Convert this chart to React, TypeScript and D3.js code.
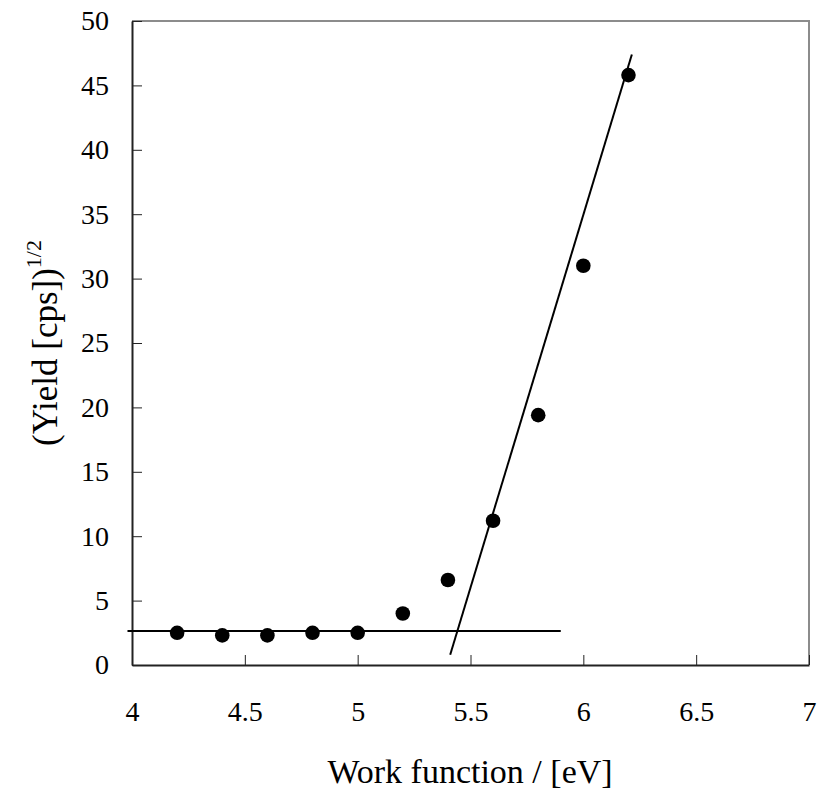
import React, { useEffect, useRef } from 'react';
import * as d3 from 'd3';

const workFunction = [4.2, 4.4, 4.6, 4.8, 5.0, 5.2, 5.4, 5.6, 5.8, 6.0, 6.2];
const yieldRoot = [2.5, 2.3, 2.3, 2.5, 2.5, 4.0, 6.6, 11.2, 19.4, 31.0, 45.8];
const baseLine = [[3.98, 2.64], [5.9, 2.64]];
const riseLine = [[5.41, 0.8], [6.215, 47.4]];
const xTicks = [4, 4.5, 5, 5.5, 6, 6.5, 7];
const yTicks = [0, 5, 10, 15, 20, 25, 30, 35, 40, 45, 50];

const App = () => {
    const svgRef = useRef(null);

    useEffect(() => {
        const svg = d3.select(svgRef.current);
        svg.selectAll('*').remove();

        const font = '"Liberation Serif", "Times New Roman", serif';
        const left = 132, right = 809, top = 21, bottom = 665;

        const x = d3.scaleLinear().domain([4, 7]).range([left, right]);
        const y = d3.scaleLinear().domain([0, 50]).range([bottom, top]);

        // plot frame, gray on top and right like the original
        svg.append('path')
            .attr('d', `M${left},${top}H${right}V${bottom}`)
            .attr('fill', 'none')
            .attr('stroke', '#8c8c8c')
            .attr('stroke-width', 2);

        const xAxis = svg.append('g')
            .attr('transform', `translate(0,${bottom})`)
            .call(d3.axisBottom(x).tickValues(xTicks).tickSizeInner(-10).tickSizeOuter(0).tickFormat(d3.format('')));
        xAxis.select('.domain').attr('stroke', '#222').attr('stroke-width', 2);
        xAxis.selectAll('.tick line').attr('stroke', '#222');
        xAxis.selectAll('.tick text')
            .attr('font-family', font).attr('font-size', 28).attr('fill', '#000')
            .attr('y', 36);

        const yAxis = svg.append('g')
            .attr('transform', `translate(${left},0)`)
            .call(d3.axisLeft(y).tickValues(yTicks).tickSizeInner(-10).tickSizeOuter(0));
        yAxis.select('.domain').attr('stroke', '#222').attr('stroke-width', 2);
        yAxis.selectAll('.tick line').attr('stroke', '#222');
        yAxis.selectAll('.tick text')
            .attr('font-family', font).attr('font-size', 28).attr('fill', '#000')
            .attr('x', -23);

        const line = d3.line().x(d => x(d[0])).y(d => y(d[1]));
        [baseLine, riseLine].forEach(l => {
            svg.append('path')
                .attr('d', line(l))
                .attr('fill', 'none')
                .attr('stroke', '#000')
                .attr('stroke-width', 2);
        });

        svg.selectAll('circle.pt')
            .data(workFunction)
            .enter()
            .append('circle')
            .attr('class', 'pt')
            .attr('cx', d => x(d))
            .attr('cy', (d, i) => y(yieldRoot[i]))
            .attr('r', 7.3)
            .attr('fill', '#000');

        svg.append('text')
            .attr('x', 470)
            .attr('y', 783)
            .attr('text-anchor', 'middle')
            .attr('font-family', font)
            .attr('font-size', 34)
            .text('Work function / [eV]');

        const yt = svg.append('text')
            .attr('transform', 'translate(57,343) rotate(-90)')
            .attr('text-anchor', 'middle')
            .attr('font-family', font)
            .attr('font-size', 35);
        yt.append('tspan').text('(Yield [cps])');
        yt.append('tspan').attr('font-size', 22).attr('dy', -16).text('1/2');
    }, []);

    return <svg ref={svgRef} width={819} height={799} style={{ position: 'absolute', left: 0, top: 0 }}></svg>;
};

export default App;
